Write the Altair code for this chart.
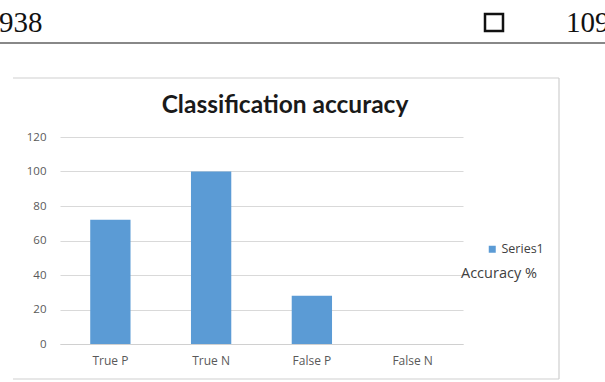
import altair as alt
import pandas as pd

categories = ["True P", "True N", "False P", "False N"]
values = [72, 100, 28, 0]
series = ["Series1"] * 4
y_ticks = [0, 20, 40, 60, 80, 100, 120]

df = pd.DataFrame({"category": categories, "value": values, "series": series})

W, H = 403, 207
L, T = 60, 137

bars = alt.Chart(df).mark_bar(color="#5b9bd5").encode(
    x=alt.X("category:N", sort=categories, title=None,
            scale=alt.Scale(paddingInner=0.6, paddingOuter=0.3),
            axis=alt.Axis(labelAngle=0, labelFont="Open Sans", labelFontSize=12,
                          labelColor="#595959", ticks=False, domain=True,
                          domainColor="#d0d0d0", labelPadding=11, grid=False)),
    y=alt.Y("value:Q", title=None,
            scale=alt.Scale(domain=[0, 120], nice=False),
            axis=alt.Axis(values=y_ticks, labelFont="Open Sans", labelFontSize=11.5,
                          labelColor="#595959", ticks=False, domain=False,
                          gridColor="#d9d9d9", labelPadding=14)),
    color=alt.Color("series:N", scale=alt.Scale(range=["#5b9bd5"]), title=None,
                    legend=alt.Legend(orient="none", legendX=426, legendY=106,
                                      symbolType="square", symbolSize=49,
                                      labelFont="Open Sans", labelFontSize=12.5,
                                      labelColor="#404040", labelOffset=3)),
)

one = alt.Data(values=[{"a": 1}])

title = alt.Chart(one).mark_text(text="Classification accuracy", font="Lato",
                                 fontWeight="bold", fontSize=24.5, color="#1a1a1a",
                                 align="center", baseline="alphabetic").encode(
    x=alt.value(285 - L), y=alt.value(113 - T))

acc = alt.Chart(one).mark_text(text="Accuracy %", font="Open Sans", fontSize=14.5,
                               color="#404040", align="left", baseline="middle").encode(
    x=alt.value(461 - L), y=alt.value(274 - T))

h1 = alt.Chart(one).mark_text(text="938", font="Liberation Serif", fontSize=29,
                              color="#111", align="left", baseline="alphabetic").encode(
    x=alt.value(-1 - L), y=alt.value(32 - T))
h2 = alt.Chart(one).mark_text(text="109", font="Liberation Serif", fontSize=29,
                              color="#111", align="left", baseline="alphabetic").encode(
    x=alt.value(566 - L), y=alt.value(32 - T))
box = alt.Chart(one).mark_rect(fill="white", stroke="#111", strokeWidth=2.5).encode(
    x=alt.value(485 - L), x2=alt.value(503 - L), y=alt.value(14 - T), y2=alt.value(31 - T))
hrule = alt.Chart(one).mark_rule(color="#888", strokeWidth=2).encode(
    x=alt.value(0 - L), x2=alt.value(605 - L), y=alt.value(43 - T))

ftop = alt.Chart(one).mark_rule(color="#cfcfcf", strokeWidth=1.2).encode(
    x=alt.value(13 - L), x2=alt.value(559 - L), y=alt.value(78 - T))
fbot = alt.Chart(one).mark_rule(color="#cfcfcf", strokeWidth=1.2).encode(
    x=alt.value(13 - L), x2=alt.value(559 - L), y=alt.value(379 - T))
fright = alt.Chart(one).mark_rule(color="#cfcfcf", strokeWidth=1.2).encode(
    x=alt.value(559 - L), y=alt.value(78 - T), y2=alt.value(379 - T))

chart = alt.layer(bars, title, acc, h1, h2, box, hrule, ftop, fbot, fright).properties(
    width=W, height=H,
    autosize=alt.AutoSizeParams(type="none"),
    padding={"left": L, "top": T, "right": 605 - L - W, "bottom": 382 - T - H},
    background="white",
).configure_view(stroke=None)

chart.save("out.html", embed_options={"renderer": "svg", "actions": False})
